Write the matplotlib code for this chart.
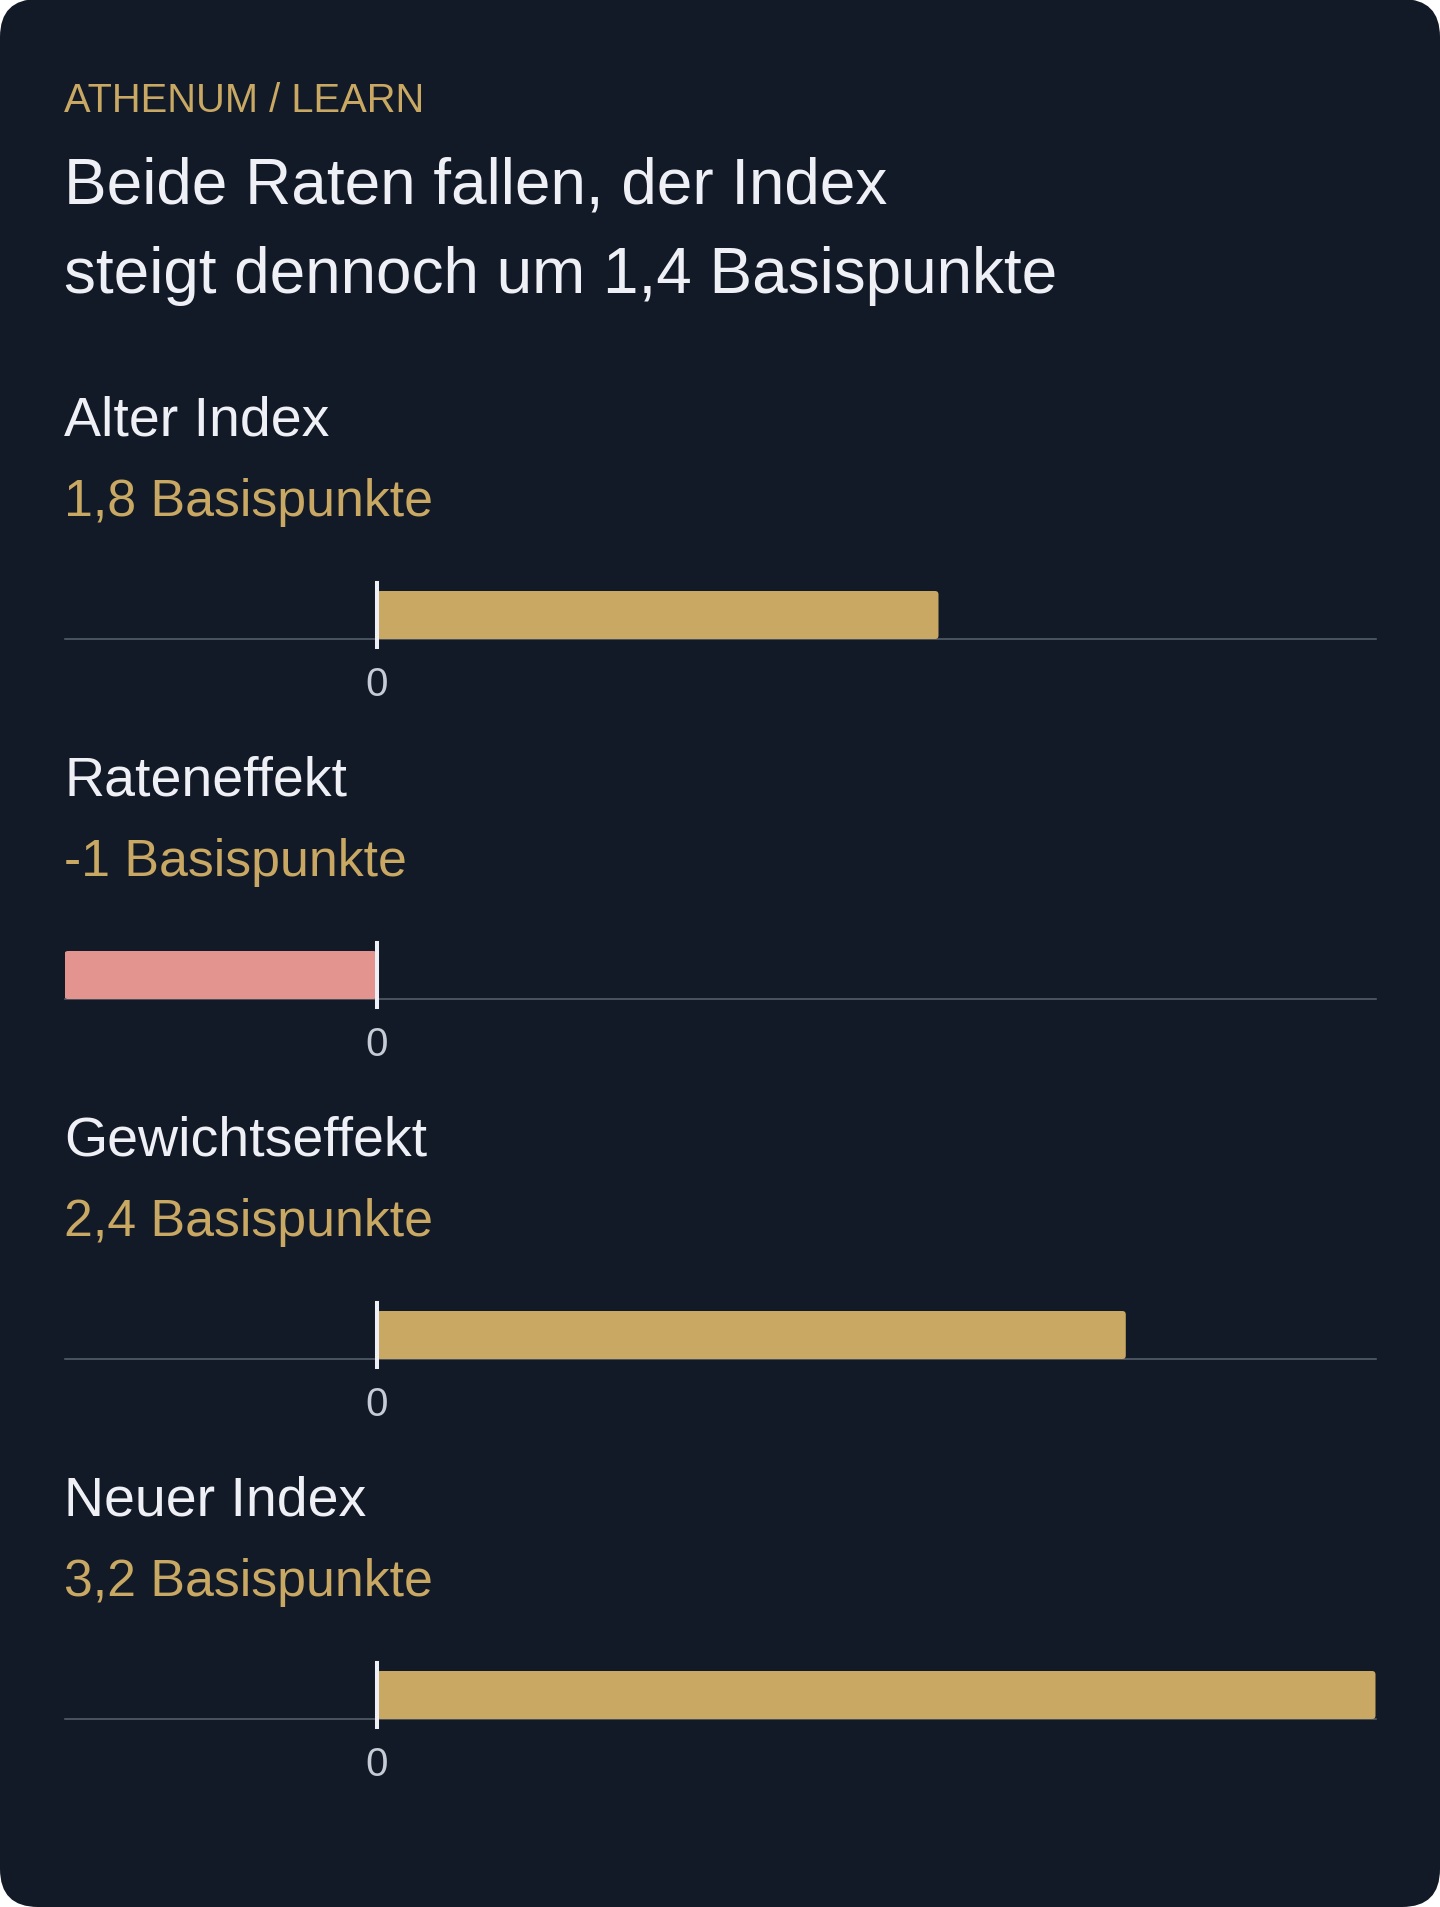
import matplotlib
matplotlib.use("Agg")
import matplotlib.pyplot as plt
from matplotlib.patches import FancyBboxPatch

# ---- data ----
kicker = "ATHENUM / LEARN"
title_lines = ["Beide Raten fallen, der Index", "steigt dennoch um 1,4 Basispunkte"]
categories = ["Alter Index", "Rateneffekt", "Gewichtseffekt", "Neuer Index"]
values = [1.8, -1.0, 2.4, 3.2]
value_labels = ["1,8 Basispunkte", "-1 Basispunkte", "2,4 Basispunkte", "3,2 Basispunkte"]
x_domain = [-1.0, 3.2]
tick_values = [0]
tick_labels = ["0"]

# ---- style ----
W, H = 1440, 1908
DPI = 100
BG = "#131a27"
GOLD = "#c8a863"
PINK = "#e4948f"
WHITE = "#eef0f5"
TICK = "#c5ccd6"
BASE = "#59636f"
FONT = ["Liberation Sans", "DejaVu Sans"]
plt.rcParams["font.family"] = FONT

fig = plt.figure(figsize=(W / DPI, H / DPI), dpi=DPI, facecolor="white")

card = FancyBboxPatch((0, 0), 1, 1, boxstyle="round,pad=0,rounding_size=%f" % (38 / W),
                      mutation_aspect=W / H, transform=fig.transFigure,
                      facecolor=BG, edgecolor="none", zorder=-10)
fig.patches.append(card)


def fy(px):
    return 1 - px / H


def fx(px):
    return px / W


LEFT = 64.5
RIGHT = 1375.5

fig.text(fx(LEFT), fy(112), kicker, color=GOLD, fontsize=28.7, va="baseline", ha="left")
fig.text(fx(LEFT), fy(204), title_lines[0], color=WHITE, fontsize=46, va="baseline", ha="left")
fig.text(fx(LEFT), fy(293), title_lines[1], color=WHITE, fontsize=46, va="baseline", ha="left")

STEP = 360
BAR_PX = 48
px_per_unit = (RIGHT - LEFT) / (x_domain[1] - x_domain[0])
rad_px = 3.5
for i, (cat, val, lab) in enumerate(zip(categories, values, value_labels)):
    off = i * STEP
    fig.text(fx(LEFT), fy(436 + off), cat, color=WHITE, fontsize=40, va="baseline", ha="left")
    fig.text(fx(LEFT), fy(516 + off), lab, color=GOLD, fontsize=37.4, va="baseline", ha="left")

    top_px, bot_px = 592 + off, 640 + off
    ax = fig.add_axes([fx(LEFT), fy(bot_px), fx(RIGHT) - fx(LEFT), (bot_px - top_px) / H])
    ax.set_zorder(1)
    ax.set_facecolor("none")
    ax.set_xlim(*x_domain)
    ax.set_ylim(0, 1)
    color = GOLD if val >= 0 else PINK
    bars = ax.barh([0], [val], height=1.0, left=0, align="edge", color=color, zorder=1)
    # rounded version of each bar, same geometry
    for rect in bars:
        x0, y0 = rect.get_x(), rect.get_y()
        w, h = rect.get_width(), rect.get_height()
        if w < 0:
            x0, w = x0 + w, -w
        r = rad_px / px_per_unit
        m = (rad_px / BAR_PX) / r
        rp = FancyBboxPatch((x0, y0), w, h, boxstyle="round,pad=0,rounding_size=%f" % r,
                            mutation_aspect=m, facecolor=color, edgecolor="none", zorder=1)
        ax.add_patch(rp)
        rect.set_visible(False)
    ax.axvline(0, ymin=-8 / 48, ymax=1 + 8 / 48, color=WHITE, linewidth=2.9,
               clip_on=False, zorder=4)
    for s in ["top", "left", "right"]:
        ax.spines[s].set_visible(False)
    ax.spines["bottom"].set_color(BASE)
    ax.spines["bottom"].set_linewidth(1.1)
    ax.spines["bottom"].set_zorder(0.5)
    ax.set_yticks([])
    ax.set_xticks(tick_values)
    ax.set_xticklabels(tick_labels, fontsize=29, color=TICK)
    ax.tick_params(axis="x", length=0, pad=19)

fig.savefig("out.png", dpi=DPI, facecolor="white")
